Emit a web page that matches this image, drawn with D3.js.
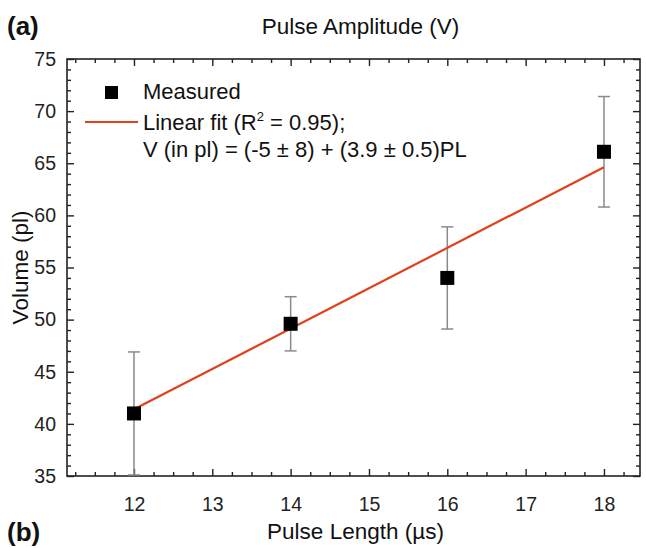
<!DOCTYPE html>
<html>
<head>
<meta charset="utf-8">
<script src="https://cdn.jsdelivr.net/npm/d3@7"></script>
<style>
  body { margin: 0; background: #fff; }
  svg { display: block; font-family: "Liberation Sans", Arial, sans-serif; }
</style>
</head>
<body>
<div id="chart"></div>
<script>
// data
const pulseLength = [12, 14, 16, 18];
const volume = [41.0, 49.6, 54.0, 66.1];
const volumeErr = [5.9, 2.6, 4.9, 5.3];
const fitIntercept = -5.04;
const fitSlope = 3.87;
const xTicks = [12, 13, 14, 15, 16, 17, 18];
const yTicks = [35, 40, 45, 50, 55, 60, 65, 70, 75];

const W = 646, H = 548;
const M = { left: 67, right: 6, top: 59, bottom: 72 };

const svg = d3.select("#chart").append("svg")
  .attr("width", W).attr("height", H);

const x = d3.scaleLinear().domain([11.145, 18.46]).range([M.left, W - M.right]);
const y = d3.scaleLinear().domain([35, 75]).range([H - M.bottom, M.top]);

const minorX = d3.range(11.25, 18.46, 0.25).filter(v => !xTicks.includes(v));
const minorY = d3.range(36, 75, 1).filter(v => !yTicks.includes(v));

// frame
svg.append("rect")
  .attr("x", M.left).attr("y", M.top)
  .attr("width", W - M.left - M.right).attr("height", H - M.top - M.bottom)
  .attr("fill", "none").attr("stroke", "#222").attr("stroke-width", 1.6);

function styleAxis(g) {
  g.select(".domain").remove();
  g.selectAll(".tick line").attr("stroke", "#222").attr("stroke-width", 1.4);
  g.selectAll(".tick text").attr("fill", "#222").style("font-size", "19.5px")
    .style("font-family", "'Liberation Sans', Arial, sans-serif");
}

// bottom axis
svg.append("g")
  .attr("transform", `translate(0,${H - M.bottom})`)
  .call(d3.axisBottom(x).tickValues(xTicks).tickSize(-7).tickPadding(21).tickFormat(d3.format("d")))
  .call(styleAxis);
svg.append("g")
  .attr("transform", `translate(0,${H - M.bottom})`)
  .call(d3.axisBottom(x).tickValues(minorX).tickSize(-4).tickFormat(""))
  .call(styleAxis);

// top axis (mirror)
svg.append("g")
  .attr("transform", `translate(0,${M.top})`)
  .call(d3.axisTop(x).tickValues(xTicks).tickSize(-7).tickFormat(""))
  .call(styleAxis);
svg.append("g")
  .attr("transform", `translate(0,${M.top})`)
  .call(d3.axisTop(x).tickValues(minorX).tickSize(-4).tickFormat(""))
  .call(styleAxis);

// left axis
svg.append("g")
  .attr("transform", `translate(${M.left},0)`)
  .call(d3.axisLeft(y).tickValues(yTicks).tickSize(-7).tickPadding(11).tickFormat(d3.format("d")))
  .call(styleAxis);
svg.append("g")
  .attr("transform", `translate(${M.left},0)`)
  .call(d3.axisLeft(y).tickValues(minorY).tickSize(-4).tickFormat(""))
  .call(styleAxis);

// right axis (mirror)
svg.append("g")
  .attr("transform", `translate(${W - M.right},0)`)
  .call(d3.axisRight(y).tickValues(yTicks).tickSize(-7).tickFormat(""))
  .call(styleAxis);
svg.append("g")
  .attr("transform", `translate(${W - M.right},0)`)
  .call(d3.axisRight(y).tickValues(minorY).tickSize(-4).tickFormat(""))
  .call(styleAxis);

// error bars
const pts = pulseLength.map((p, i) => ({ p, v: volume[i], e: volumeErr[i] }));
const eb = svg.append("g").attr("stroke", "#8a8a8a").attr("stroke-width", 1.5);
pts.forEach(d => {
  const lo = Math.max(d.v - d.e, 35);
  eb.append("line").attr("x1", x(d.p)).attr("x2", x(d.p))
    .attr("y1", y(d.v + d.e)).attr("y2", y(lo));
  [d.v + d.e, lo].forEach(c => {
    eb.append("line").attr("x1", x(d.p) - 6).attr("x2", x(d.p) + 6)
      .attr("y1", y(c)).attr("y2", y(c));
  });
});

// linear fit
svg.append("line")
  .attr("x1", x(12)).attr("y1", y(fitIntercept + fitSlope * 12))
  .attr("x2", x(18)).attr("y2", y(fitIntercept + fitSlope * 18))
  .attr("stroke", "#e0401c").attr("stroke-width", 2.2);

// markers
svg.append("g").selectAll("rect")
  .data(pts).join("rect")
  .attr("x", d => x(d.p) - 7).attr("y", d => y(d.v) - 7)
  .attr("width", 14).attr("height", 14)
  .attr("fill", "#000");

// legend
const lg = svg.append("g").style("font-size", "22px").attr("fill", "#111");
lg.append("rect").attr("x", 105).attr("y", 86).attr("width", 13).attr("height", 13).attr("fill", "#000");
lg.append("text").attr("x", 143).attr("y", 99).text("Measured");
lg.append("line").attr("x1", 85).attr("x2", 138).attr("y1", 122).attr("y2", 122)
  .attr("stroke", "#e0401c").attr("stroke-width", 2);
const fitText = lg.append("text").attr("x", 143).attr("y", 130);
fitText.append("tspan").text("Linear fit (R");
fitText.append("tspan").attr("dy", -9).style("font-size", "13px").text("2");
fitText.append("tspan").attr("dy", 9).text(" = 0.95);");
lg.append("text").attr("x", 143).attr("y", 157).text("V (in pl) = (-5 \u00b1 8) + (3.9 \u00b1 0.5)PL");

// axis titles
svg.append("text")
  .attr("x", (M.left + W - M.right) / 2 + 2).attr("y", 539)
  .attr("text-anchor", "middle").style("font-size", "22.5px").attr("fill", "#111")
  .text("Pulse Length (\u00b5s)");
svg.append("text")
  .attr("x", (M.left + W - M.right) / 2 + 7).attr("y", 34)
  .attr("text-anchor", "middle").style("font-size", "22.5px").attr("fill", "#111")
  .text("Pulse Amplitude (V)");
svg.append("text")
  .attr("transform", `translate(28,${(M.top + H - M.bottom) / 2}) rotate(-90)`)
  .attr("text-anchor", "middle").style("font-size", "22.5px").attr("fill", "#111")
  .text("Volume (pl)");

// panel labels
svg.append("text").attr("x", 7).attr("y", 35)
  .style("font-size", "26px").style("font-weight", "bold").attr("fill", "#111").text("(a)");
svg.append("text").attr("x", 7).attr("y", 541)
  .style("font-size", "26px").style("font-weight", "bold").attr("fill", "#111").text("(b)");
</script>
</body>
</html>
